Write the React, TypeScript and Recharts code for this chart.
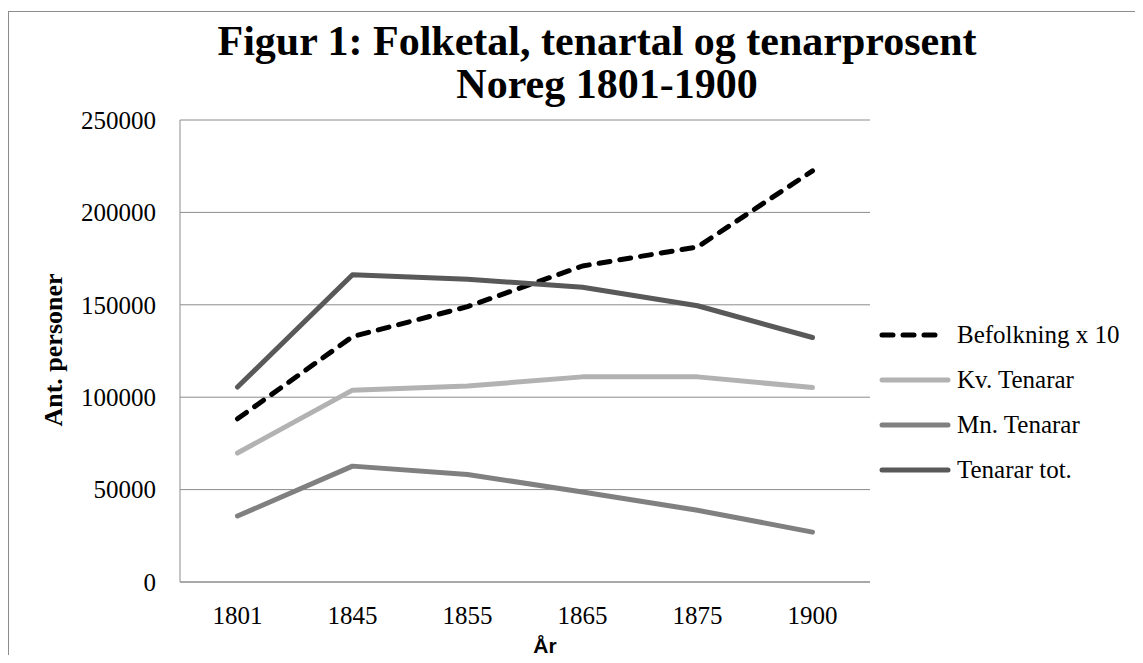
import { LineChart, Line, XAxis, YAxis, CartesianGrid } from 'recharts';

const years = ['1801', '1845', '1855', '1865', '1875', '1900'];
const befolkning = [88300, 132800, 149000, 171000, 181300, 222500];
const kvTenarar = [69800, 103800, 106000, 111000, 111000, 105200];
const mnTenarar = [35700, 62700, 58200, 48700, 38800, 27000];
const tenararTot = [105500, 166300, 163800, 159500, 149500, 132300];
const yTicks = [0, 50000, 100000, 150000, 200000, 250000];

const series = [
  { key: 'befolkning', name: 'Befolkning x 10', color: '#000000', dash: '11 10' },
  { key: 'kv', name: 'Kv. Tenarar', color: '#b2b2b2', dash: undefined },
  { key: 'mn', name: 'Mn. Tenarar', color: '#808080', dash: undefined },
  { key: 'tot', name: 'Tenarar tot.', color: '#595959', dash: undefined },
];

const data = years.map((year, i) => ({
  year,
  befolkning: befolkning[i],
  kv: kvTenarar[i],
  mn: mnTenarar[i],
  tot: tenararTot[i],
}));

const serif = '"Liberation Serif", "Times New Roman", serif';
const gridColor = '#8c8c8c';

export default function App() {
  return (
    <div style={{ paddingTop: 3, width: 1135, height: 652, marginBottom: -8, overflow: 'hidden' }}>
      <div
        style={{
          position: 'relative',
          width: 1200,
          height: 700,
          borderTop: `1px solid ${gridColor}`,
          borderLeft: `1px solid ${gridColor}`,
          fontFamily: serif,
        }}
      >
        <div style={{ position: 'absolute', left: 88, width: 1000, top: 5, textAlign: 'center', fontSize: 42, lineHeight: '48px', fontWeight: 'bold' }}>
          Figur 1: Folketal, tenartal og tenarprosent
        </div>
        <div style={{ position: 'absolute', left: 98, width: 1000, top: 48, textAlign: 'center', fontSize: 42, lineHeight: '48px', fontWeight: 'bold' }}>
          Noreg 1801-1900
        </div>

        <LineChart
          width={1118}
          height={640}
          data={data}
          margin={{ top: 108, right: 257, left: 0, bottom: 30 }}
        >
          <CartesianGrid vertical={false} stroke={gridColor} strokeWidth={1} />
          <XAxis
            dataKey="year"
            height={40}
            padding={{ left: 57.5, right: 57.5 }}
            axisLine={{ stroke: gridColor }}
            tickLine={false}
            tickSize={0}
            tickMargin={24}
            tick={{ fill: '#000', fontSize: 25, fontFamily: serif }}
          />
          <YAxis
            width={171}
            domain={[0, 250000]}
            ticks={yTicks}
            interval={0}
            axisLine={{ stroke: gridColor }}
            tickLine={false}
            tickSize={0}
            tickMargin={24}
            tick={{ fill: '#000', fontSize: 25, fontFamily: serif }}
          />
          {series.map((s) => (
            <Line
              key={s.key}
              type="linear"
              dataKey={s.key}
              name={s.name}
              stroke={s.color}
              strokeWidth={5}
              strokeDasharray={s.dash}
              strokeLinecap="round"
              strokeLinejoin="round"
              dot={false}
              activeDot={false}
              isAnimationActive={false}
            />
          ))}
        </LineChart>

        <div
          style={{
            position: 'absolute',
            left: -55,
            top: 323,
            width: 200,
            height: 30,
            lineHeight: '30px',
            textAlign: 'center',
            fontSize: 26,
            fontWeight: 'bold',
            transform: 'rotate(-90deg)',
          }}
        >
          Ant. personer
        </div>

        <div
          style={{
            position: 'absolute',
            left: 486,
            width: 100,
            top: 622,
            textAlign: 'center',
            fontSize: 21,
            lineHeight: '24px',
            fontWeight: 'bold',
            fontFamily: '"Liberation Sans", Arial, sans-serif',
          }}
        >
          År
        </div>

        <div style={{ position: 'absolute', left: 870, top: 300 }}>
          {series.map((s) => (
            <div key={s.key} style={{ display: 'flex', alignItems: 'center', height: 45, fontSize: 25 }}>
              <svg width={72} height={10} style={{ marginRight: 6 }}>
                <line
                  x1={3}
                  y1={5}
                  x2={s.dash ? 56 : 69}
                  y2={5}
                  stroke={s.color}
                  strokeWidth={5}
                  strokeLinecap="round"
                  strokeDasharray={s.dash}
                />
              </svg>
              <span>{s.name}</span>
            </div>
          ))}
        </div>
      </div>
    </div>
  );
}
